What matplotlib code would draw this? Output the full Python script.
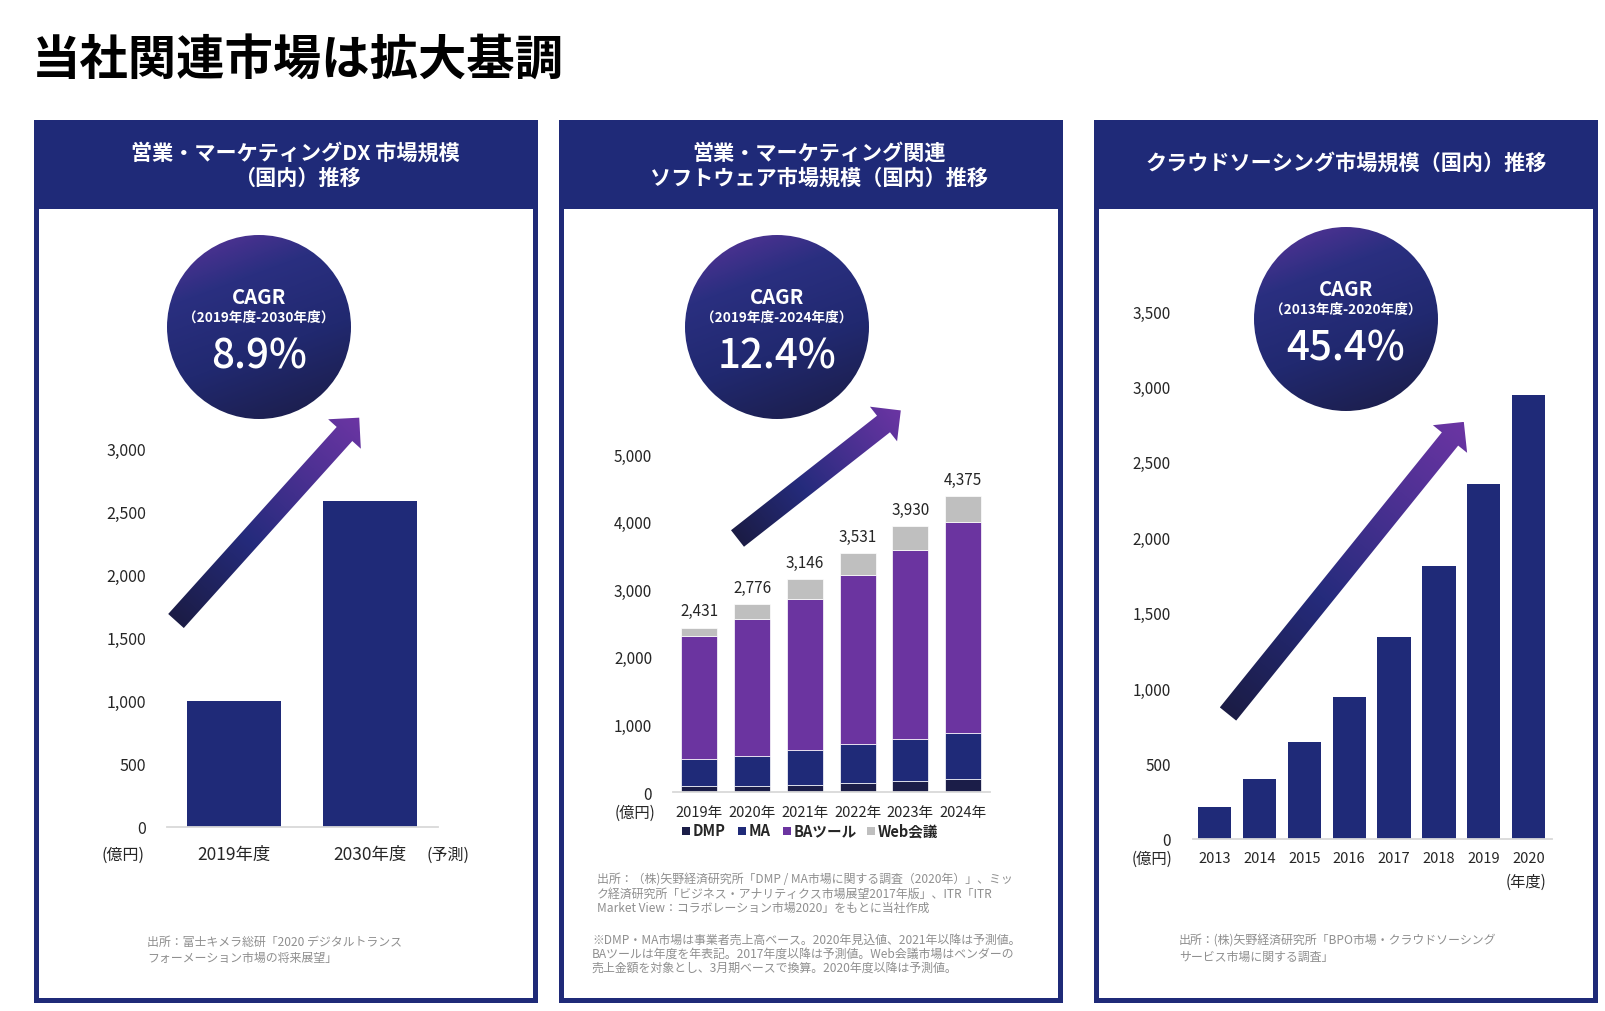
import numpy as np
import matplotlib
matplotlib.use('Agg')
import matplotlib.pyplot as plt
from matplotlib.patches import Circle, Polygon, Rectangle
from matplotlib.colors import LinearSegmentedColormap

plt.rcParams['font.family'] = ['Noto Sans CJK JP', 'DejaVu Sans']

# ---- data ----
p1_labels = ['2019年度', '2030年度']
p1_values = [1000, 2580]
p1_ticks = [0, 500, 1000, 1500, 2000, 2500, 3000]

p2_labels = ['2019年', '2020年', '2021年', '2022年', '2023年', '2024年']
p2_dmp = [90, 95, 108, 138, 168, 197]
p2_ma = [404, 438, 513, 577, 621, 681]
p2_ba = [1810, 2021, 2239, 2495, 2786, 3116]
p2_web = [127, 222, 286, 321, 355, 381]
p2_totals = [2431, 2776, 3146, 3531, 3930, 4375]
p2_series = ['DMP', 'MA', 'BAツール', 'Web会議']
p2_ticks = [0, 1000, 2000, 3000, 4000, 5000]

p3_labels = ['2013', '2014', '2015', '2016', '2017', '2018', '2019', '2020']
p3_values = [210, 401, 642, 943, 1342, 1811, 2351, 2940]
p3_ticks = [0, 500, 1000, 1500, 2000, 2500, 3000, 3500]

NAVY = '#1f2a78'
DARK = '#1b1d48'
PURPLE = '#6b34a0'
GRAY = '#bfbfbf'
p2_colors = [DARK, NAVY, PURPLE, GRAY]
TXT = '#262626'
NOTE = '#8f8f8f'

W, H = 1606, 1012
fig = plt.figure(figsize=(W / 100, H / 100), dpi=100)
bg = fig.add_axes([0, 0, 1, 1], zorder=0)
bg.set_xlim(0, W)
bg.set_ylim(H, 0)
bg.axis('off')


def px_axes(x0, y0, x1, y1):
    ax = fig.add_axes([x0 / W, 1 - y1 / H, (x1 - x0) / W, (y1 - y0) / H], zorder=2)
    ax.set_facecolor('none')
    for s in ['top', 'left', 'right']:
        ax.spines[s].set_visible(False)
    ax.spines['bottom'].set_color('#d9d9d9')
    ax.spines['bottom'].set_linewidth(1.3)
    ax.set_xticks([])
    return ax


# title
bg.text(32, 61, '当社関連市場は拡大基調', fontsize=34.8, fontweight='bold', va='center', ha='left', color='black')

# panel frames + headers
panel_left = [34, 559, 1094]
for x0 in panel_left:
    bg.add_patch(Rectangle((x0, 121), 504, 883, facecolor=NAVY, edgecolor='none', zorder=0))
    bg.add_patch(Rectangle((x0 + 5, 210), 494, 789, facecolor='white', edgecolor='none', zorder=0.5))

hdr = dict(color='white', fontsize=15.2, fontweight='bold', ha='center', va='center')
bg.text(295, 153, '営業・マーケティングDX 市場規模', **hdr)
bg.text(297, 178, '（国内）推移', **hdr)
bg.text(819, 153, '営業・マーケティング関連', **hdr)
bg.text(819, 178, 'ソフトウェア市場規模（国内）推移', **hdr)
bg.text(1346, 163, 'クラウドソーシング市場規模（国内）推移', **hdr)

# gradient badges and arrows
cmap_circle = LinearSegmentedColormap.from_list(
    'gc', [(0, '#5c3399'), (0.28, '#2a2f80'), (0.6, '#212970'), (1, '#1b1c45')])
cmap_arrow = LinearSegmentedColormap.from_list(
    'ga', [(0, '#1b1c45'), (0.4, '#252b7c'), (0.75, '#4f3194'), (1, '#6b35a3')])


def badge(cx, cy, r, period, value):
    n = 240
    xs = np.linspace(-1, 1, n)
    X, Y = np.meshgrid(xs, xs)
    t = X * 0.35 + Y * 0.94
    t = (t - t.min()) / (t.max() - t.min())
    img = bg.imshow(t, cmap=cmap_circle, extent=(cx - r, cx + r, cy + r, cy - r),
                    origin='upper', interpolation='bilinear', aspect='auto', zorder=1)
    c = Circle((cx, cy), r, facecolor='none', edgecolor='none', zorder=1)
    bg.add_patch(c)
    img.set_clip_path(c)
    bg.text(cx, cy - 31, 'CAGR', color='white', fontsize=14.5, fontweight='bold', ha='center', va='center', zorder=3)
    bg.text(cx, cy - 10, period, color='white', fontsize=9.8, fontweight='bold', ha='center', va='center', zorder=3)
    bg.text(cx, cy + 29, value, color='white', fontsize=29, fontweight='medium', ha='center', va='center', zorder=3)


def arrow(tail, base, shaft_w=21, head_w=44, head_len=22):
    tail = np.array(tail, float)
    base = np.array(base, float)
    d = base - tail
    L = np.hypot(*d)
    u = d / L
    nrm = np.array([-u[1], u[0]])
    tip = base + u * head_len
    pts = [tail + nrm * shaft_w / 2, base + nrm * shaft_w / 2, base + nrm * head_w / 2, tip,
           base - nrm * head_w / 2, base - nrm * shaft_w / 2, tail - nrm * shaft_w / 2]
    poly = Polygon(pts, closed=True, facecolor='none', edgecolor='none', zorder=1)
    bg.add_patch(poly)
    xs = [p[0] for p in pts]
    ys = [p[1] for p in pts]
    x0, x1, y0, y1 = min(xs), max(xs), min(ys), max(ys)
    X, Y = np.meshgrid(np.linspace(x0, x1, 300), np.linspace(y0, y1, 300))
    t = ((X - tail[0]) * u[0] + (Y - tail[1]) * u[1]) / (L + head_len)
    img = bg.imshow(np.clip(t, 0, 1), cmap=cmap_arrow, vmin=0, vmax=1, extent=(x0, x1, y1, y0),
                    origin='upper', interpolation='bilinear', aspect='auto', zorder=1)
    img.set_clip_path(poly)


badge(259, 328, 92, '（2019年度-2030年度）', '8.9%')
badge(777, 328, 92, '（2019年度-2024年度）', '12.4%')
badge(1346, 320, 92, '（2013年度-2020年度）', '45.4%')
arrow((176, 622), (344.5, 435))
arrow((737.5, 539.5), (883.5, 425))
arrow((1228, 715), (1450, 440))
bg.set_xlim(0, W)
bg.set_ylim(H, 0)

# ---- panel 1 ----
ax1 = px_axes(167, 449, 438, 828)
x1 = np.arange(len(p1_values))
ax1.bar(x1, p1_values, width=0.69, color=NAVY, zorder=2)
ax1.set_xlim(-0.49, 1.5)
ax1.set_ylim(0, 3000)
ax1.set_yticks(p1_ticks, [f'{v:,}' for v in p1_ticks])
ax1.tick_params(axis='y', length=0, pad=15, labelsize=11.5, labelcolor=TXT)
for i, lab in enumerate(p1_labels):
    ax1.annotate(lab, xy=(i, 0), xycoords=('data', 'axes fraction'), xytext=(0, -19.5),
                 textcoords='offset points', ha='center', va='center', fontsize=12.5, color=TXT)
ax1.annotate('(予測)', xy=(1, 0), xycoords=('data', 'axes fraction'), xytext=(56, -19.5),
             textcoords='offset points', ha='center', va='center', fontsize=11.5, color=TXT)
bg.text(123, 855, '(億円)', fontsize=11.5, color=TXT, ha='center', va='center')
bg.text(147, 942, '出所：富士キメラ総研「2020 デジタルトランス', fontsize=8.6, color=NOTE, va='center')
bg.text(147, 958, 'フォーメーション市場の将来展望」', fontsize=8.6, color=NOTE, va='center')

# ---- panel 2 ----
ax2 = px_axes(673, 455, 990, 793)
x2 = np.arange(len(p2_labels))
bottom = np.zeros(len(p2_labels))
for vals, col in zip([p2_dmp, p2_ma, p2_ba, p2_web], p2_colors):
    ax2.bar(x2, vals, width=0.68, bottom=bottom, color=col, edgecolor='white', linewidth=0.5, zorder=2)
    bottom += np.array(vals)
for i, tot in enumerate(p2_totals):
    ax2.annotate(f'{tot:,}', xy=(i, tot), xytext=(0, 6), textcoords='offset points',
                 ha='center', va='bottom', fontsize=11, color=TXT)
ax2.set_xlim(-0.5, 5.51)
ax2.set_ylim(0, 5000)
ax2.set_yticks(p2_ticks, [f'{v:,}' for v in p2_ticks])
ax2.tick_params(axis='y', length=0, pad=15, labelsize=11, labelcolor=TXT)
for i, lab in enumerate(p2_labels):
    ax2.annotate(lab, xy=(i, 0), xycoords=('data', 'axes fraction'), xytext=(0, -14.5),
                 textcoords='offset points', ha='center', va='center', fontsize=10.5, color=TXT)
bg.text(635, 813, '(億円)', fontsize=11, color=TXT, ha='center', va='center')
leg_x = [682, 738, 783, 867]
for lx, name, col in zip(leg_x, p2_series, p2_colors):
    bg.add_patch(Rectangle((lx, 828), 8, 8, facecolor=col, edgecolor='none', zorder=2))
    bg.text(lx + 11, 831, name, fontsize=10.5, fontweight='bold', color=TXT, va='center', ha='left')
notes2 = ['出所：（株)矢野経済研究所「DMP / MA市場に関する調査（2020年）」、ミッ',
          'ク経済研究所「ビジネス・アナリティクス市場展望2017年版」、ITR「ITR',
          'Market View：コラボレーション市場2020」をもとに当社作成']
for k, line in enumerate(notes2):
    bg.text(597, 880 + 14 * k, line, fontsize=8.6, color=NOTE, va='center')
notes2b = ['※DMP・MA市場は事業者売上高ベース。2020年見込値、2021年以降は予測値。',
           'BAツールは年度を年表記。2017年度以降は予測値。Web会議市場はベンダーの',
           '売上金額を対象とし、3月期ベースで換算。2020年度以降は予測値。']
for k, line in enumerate(notes2b):
    bg.text(592, 940 + 14 * k, line, fontsize=8.6, color=NOTE, va='center')

# ---- panel 3 ----
ax3 = px_axes(1193, 312, 1552, 840)
x3 = np.arange(len(p3_values))
ax3.bar(x3, p3_values, width=0.74, color=NAVY, zorder=2)
ax3.set_xlim(-0.48, 7.52)
ax3.set_ylim(0, 3500)
ax3.set_yticks(p3_ticks, [f'{v:,}' for v in p3_ticks])
ax3.tick_params(axis='y', length=0, pad=16, labelsize=11, labelcolor=TXT)
for i, lab in enumerate(p3_labels):
    ax3.annotate(lab, xy=(i, 0), xycoords=('data', 'axes fraction'), xytext=(0, -13.7),
                 textcoords='offset points', ha='center', va='center', fontsize=10.5, color=TXT)
bg.text(1152, 859, '(億円)', fontsize=11, color=TXT, ha='center', va='center')
bg.text(1526, 882, '(年度)', fontsize=11, color=TXT, ha='center', va='center')
bg.text(1179, 941, '出所：(株)矢野経済研究所「BPO市場・クラウドソーシング', fontsize=8.6, color=NOTE, va='center')
bg.text(1179, 957, 'サービス市場に関する調査」', fontsize=8.6, color=NOTE, va='center')

fig.savefig('out.png', dpi=100)
